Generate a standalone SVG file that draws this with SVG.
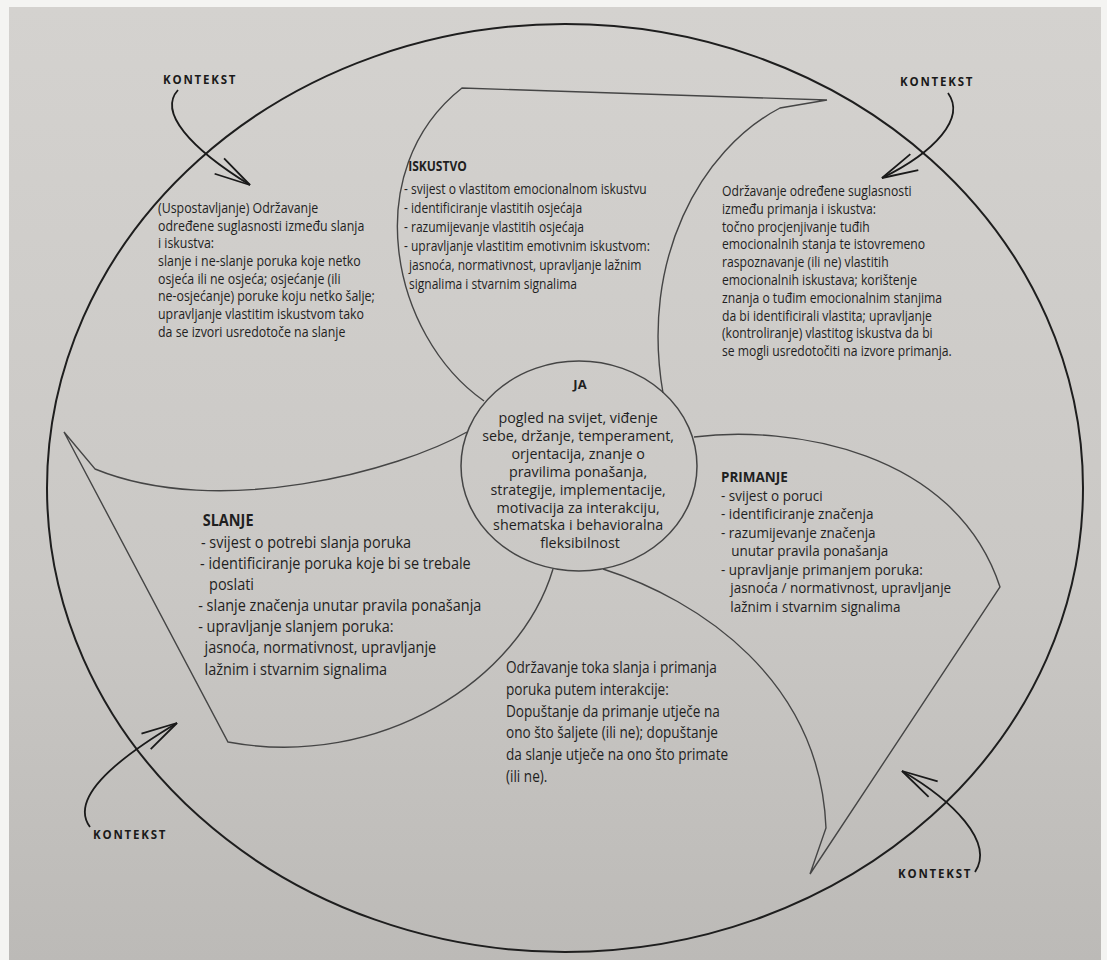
<svg xmlns="http://www.w3.org/2000/svg" width="1107" height="960" viewBox="0 0 1107 960">
<defs>
<linearGradient id="paper" x1="0" y1="0" x2="0" y2="1">
<stop offset="0" stop-color="#d4d2cf"/>
<stop offset="0.6" stop-color="#cac8c5"/>
<stop offset="1" stop-color="#bcbab7"/>
</linearGradient>
<marker id="ah" markerUnits="userSpaceOnUse" viewBox="-40 -12 44 24" markerWidth="44" markerHeight="24" refX="0" refY="0" orient="auto" overflow="visible">
<path d="M-36,-9 L0,0 L-36,9" fill="none" stroke="#1a1a1a" stroke-width="1.8"/>
</marker>
<style>
.t{font-family:"Open Sans","DejaVu Sans",sans-serif;fill:#1f1f1f;font-size:14px}
.b{font-weight:700}
.k{font-family:"Open Sans","DejaVu Sans",sans-serif;font-weight:700;font-size:11.5px;letter-spacing:1.8px;fill:#1a1a1a}
.blade{fill:none;stroke:#454545;stroke-width:1.4}
.arrow{fill:none;stroke:#1a1a1a;stroke-width:1.8;marker-end:url(#ah)}
</style>
</defs>
<rect x="0" y="0" width="1107" height="960" fill="#f4f4f2"/>
<rect x="9" y="7" width="1092" height="953" fill="url(#paper)"/>

<g id="context-circle">
<ellipse cx="565" cy="488" rx="518" ry="464" fill="none" stroke="#1e1e1e" stroke-width="2"/>
</g>

<g id="connectors">
<path class="blade" d="M484,401 C390,335 358,170 462,88 L827,100 L780,108 C700,150 640,260 663,393"/>
<path class="blade" d="M467,432 C400,470 220,520 95,469 L64,432 L228,742 C380,770 520,680 553,569"/>
<path class="blade" d="M694,437 C790,425 955,450 1000,587 L810,874 L826,828 C820,680 700,600 603,569"/>
<path class="arrow" d="M178,90 C158,112 190,148 250,185"/>
<path class="arrow" d="M948,93 C966,118 935,152 882,178"/>
<path class="arrow" d="M90,827 C70,800 110,763 177,723"/>
<path class="arrow" d="M975,872 C995,842 952,800 902,771"/>
</g>

<g id="ja">
<ellipse cx="579" cy="466" rx="118" ry="105" fill="none" stroke="#454545" stroke-width="1.5"/>
<text class="t b" x="580" y="389" text-anchor="middle" style="font-size:13px">JA</text>
<text class="t" text-anchor="middle" style="font-size:14.3px">
<tspan x="580" y="423">pogled na svijet, viđenje</tspan>
<tspan x="580" y="440.9">sebe, držanje, temperament,</tspan>
<tspan x="580" y="458.8">orjentacija, znanje o</tspan>
<tspan x="580" y="476.7">pravilima ponašanja,</tspan>
<tspan x="580" y="494.6">strategije, implementacije,</tspan>
<tspan x="580" y="512.5">motivacija za interakciju,</tspan>
<tspan x="580" y="530.4">shematska i behavioralna</tspan>
<tspan x="580" y="548.3">fleksibilnost</tspan>
</text>
</g>

<g id="iskustvo" transform="translate(404,0) scale(0.83,1)">
<text class="t b" x="5" y="171" style="font-size:14.5px">ISKUSTVO</text>
<text class="t" style="font-size:14.5px">
<tspan x="0" y="194">- svijest o vlastitom emocionalnom iskustvu</tspan>
<tspan x="0" y="213">- identificiranje vlastitih osjećaja</tspan>
<tspan x="0" y="232">- razumijevanje vlastitih osjećaja</tspan>
<tspan x="0" y="251">- upravljanje vlastitim emotivnim iskustvom:</tspan>
<tspan x="6" y="270">jasnoća, normativnost, upravljanje lažnim</tspan>
<tspan x="6" y="289">signalima i stvarnim signalima</tspan>
</text>
</g>

<g id="slanje-iskustvo" transform="translate(158,0) scale(0.885,1)">
<text class="t">
<tspan x="0" y="213">(Uspostavljanje) Održavanje</tspan>
<tspan x="0" y="230.7">određene suglasnosti između slanja</tspan>
<tspan x="0" y="248.4">i iskustva:</tspan>
<tspan x="0" y="266.1">slanje i ne-slanje poruka koje netko</tspan>
<tspan x="0" y="283.8">osjeća ili ne osjeća; osjećanje (ili</tspan>
<tspan x="0" y="301.5">ne-osjećanje) poruke koju netko šalje;</tspan>
<tspan x="0" y="319.2">upravljanje vlastitim iskustvom tako</tspan>
<tspan x="0" y="336.9">da se izvori usredotoče na slanje</tspan>
</text>
</g>

<g id="primanje-iskustvo" transform="translate(722,0) scale(0.87,1)">
<text class="t">
<tspan x="0" y="196">Održavanje određene suglasnosti</tspan>
<tspan x="0" y="213.8">između primanja i iskustva:</tspan>
<tspan x="0" y="231.6">točno procjenjivanje tuđih</tspan>
<tspan x="0" y="249.4">emocionalnih stanja te istovremeno</tspan>
<tspan x="0" y="267.2">raspoznavanje (ili ne) vlastitih</tspan>
<tspan x="0" y="285">emocionalnih iskustava; korištenje</tspan>
<tspan x="0" y="302.8">znanja o tuđim emocionalnim stanjima</tspan>
<tspan x="0" y="320.6">da bi identificirali vlastita; upravljanje</tspan>
<tspan x="0" y="338.4">(kontroliranje) vlastitog iskustva da bi</tspan>
<tspan x="0" y="356.2">se mogli usredotočiti na izvore primanja.</tspan>
</text>
</g>

<g id="primanje" transform="translate(721,0) scale(0.93,1)">
<text class="t b" x="0" y="482" style="font-size:14.5px">PRIMANJE</text>
<text class="t" style="font-size:14.5px">
<tspan x="0" y="501">- svijest o poruci</tspan>
<tspan x="0" y="519.5">- identificiranje značenja</tspan>
<tspan x="0" y="538">- razumijevanje značenja</tspan>
<tspan x="11" y="556.5">unutar pravila ponašanja</tspan>
<tspan x="0" y="575">- upravljanje primanjem poruka:</tspan>
<tspan x="10" y="593.5">jasnoća / normativnost, upravljanje</tspan>
<tspan x="10" y="612">lažnim i stvarnim signalima</tspan>
</text>
</g>

<g id="slanje" transform="translate(200,0) scale(0.905,1)">
<text class="t b" x="3" y="526" style="font-size:16px">SLANJE</text>
<text class="t" style="font-size:16px">
<tspan x="1" y="548">- svijest o potrebi slanja poruka</tspan>
<tspan x="0" y="569">- identificiranje poruka koje bi se trebale</tspan>
<tspan x="10" y="590">poslati</tspan>
<tspan x="-2" y="611">- slanje značenja unutar pravila ponašanja</tspan>
<tspan x="-2" y="632">- upravljanje slanjem poruka:</tspan>
<tspan x="5" y="653">jasnoća, normativnost, upravljanje</tspan>
<tspan x="5" y="675">lažnim i stvarnim signalima</tspan>
</text>
</g>

<g id="slanje-primanje" transform="translate(506,0) scale(0.85,1)">
<text class="t" style="font-size:16px">
<tspan x="0" y="673">Održavanje toka slanja i primanja</tspan>
<tspan x="0" y="695">poruka putem interakcije:</tspan>
<tspan x="0" y="717">Dopuštanje da primanje utječe na</tspan>
<tspan x="0" y="738">ono što šaljete (ili ne); dopuštanje</tspan>
<tspan x="0" y="760">da slanje utječe na ono što primate</tspan>
<tspan x="0" y="782">(ili ne).</tspan>
</text>
</g>

<g id="kontekst-tl"><text class="k" x="163" y="84">KONTEKST</text></g>
<g id="kontekst-tr"><text class="k" x="900" y="86">KONTEKST</text></g>
<g id="kontekst-bl"><text class="k" x="93" y="839">KONTEKST</text></g>
<g id="kontekst-br"><text class="k" x="898" y="878">KONTEKST</text></g>
</svg>
